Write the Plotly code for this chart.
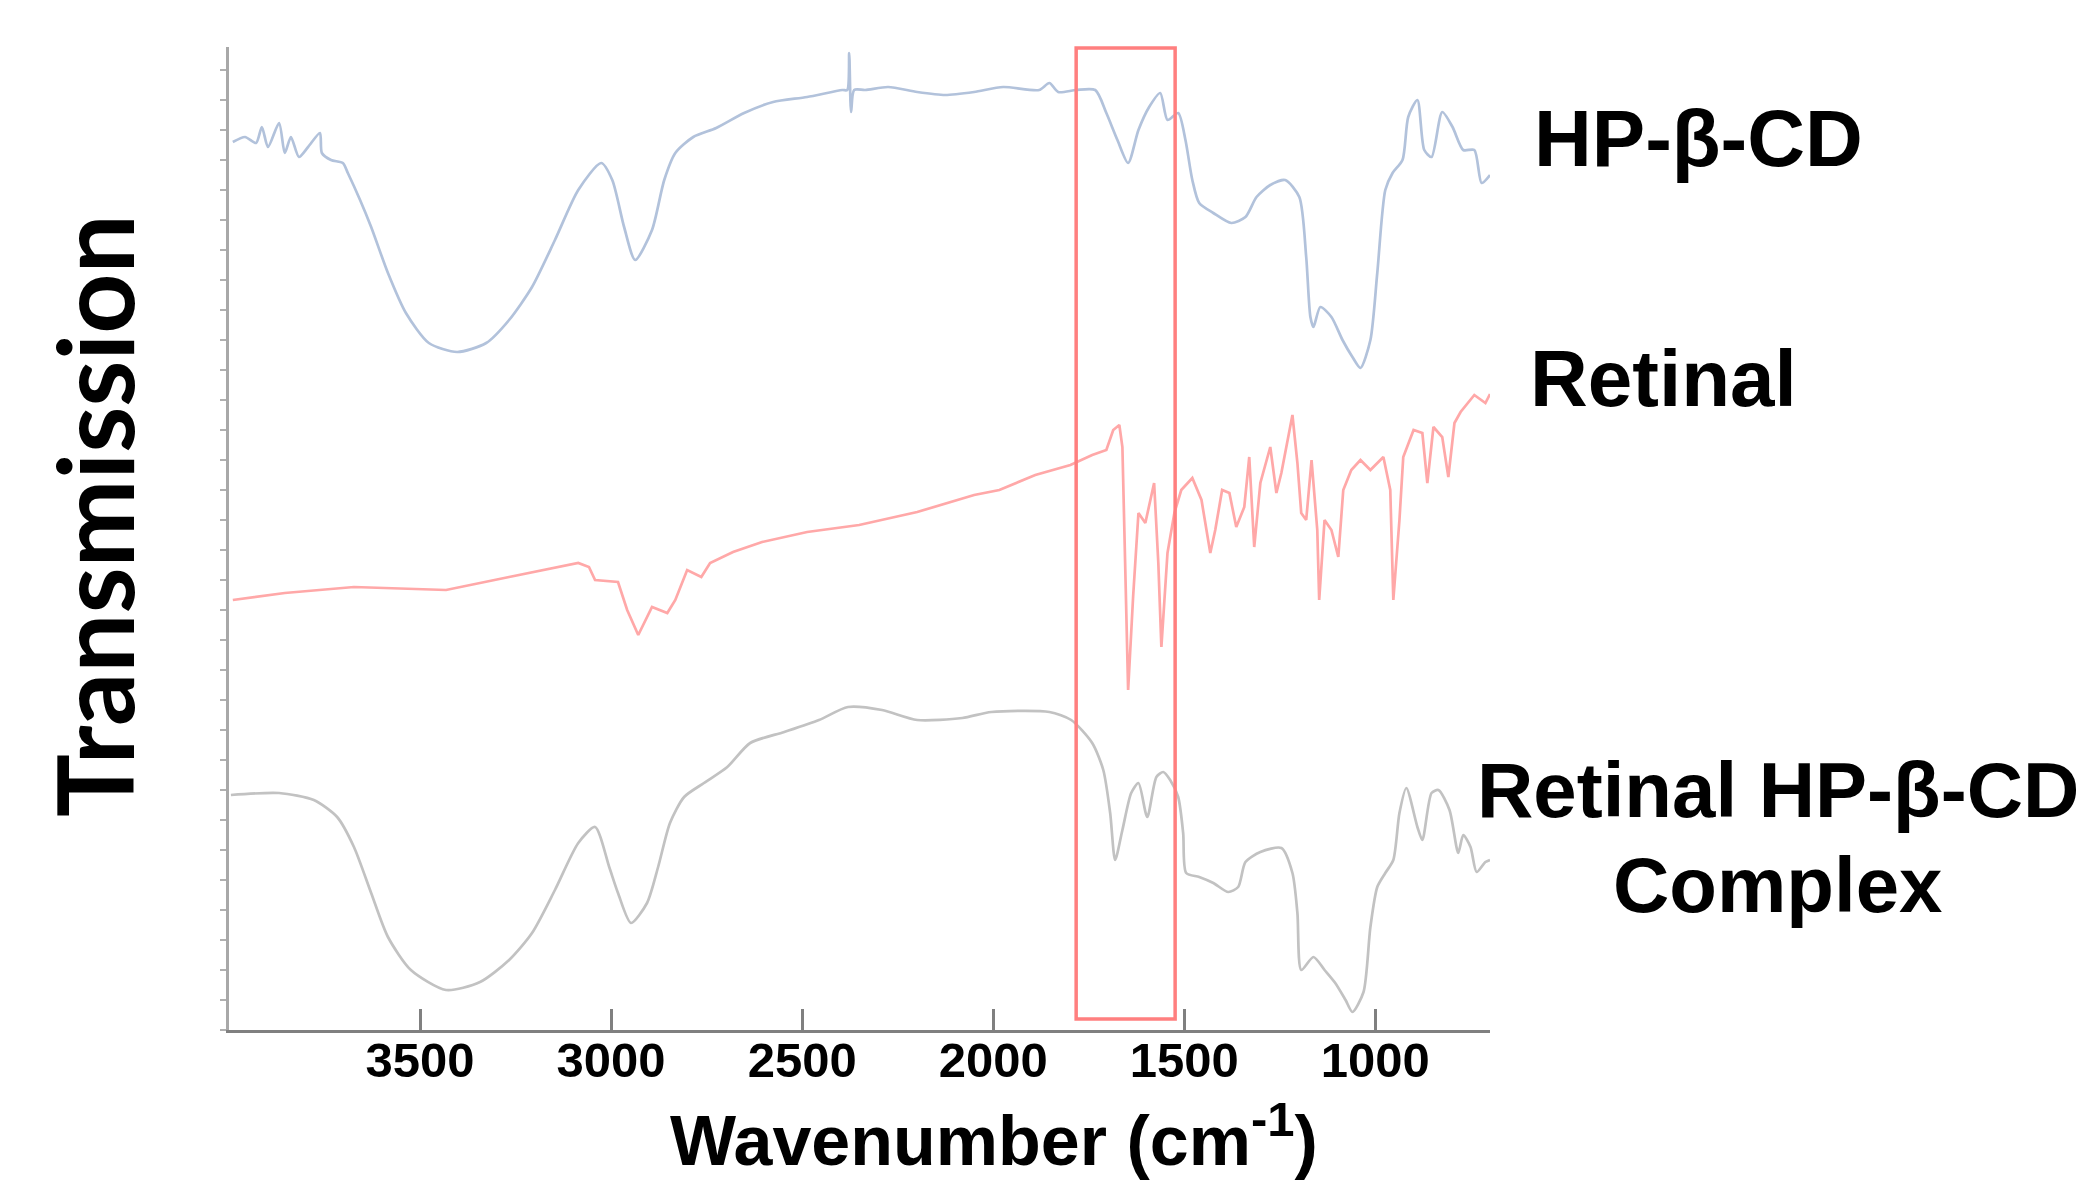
import plotly.graph_objects as go

# ---------------- data (wavenumber in cm-1, transmission in offset a.u.) ----------------
hp_wn = [3990, 3958, 3929, 3914, 3898, 3869, 3854, 3838, 3817, 3793, 3762, 3757, 3733, 3702, 3689,
         3657, 3628, 3584, 3537, 3477, 3403, 3327, 3267, 3207, 3147, 3086, 3026, 2997, 2966, 2937,
         2893, 2861, 2832, 2785, 2725, 2652, 2576, 2487, 2395, 2382, 2377, 2372, 2364, 2335, 2275,
         2199, 2126, 2050, 1974, 1880, 1853, 1830, 1783, 1733, 1704, 1675, 1647, 1620, 1592, 1563,
         1544, 1516, 1497, 1479, 1461, 1424, 1377, 1340, 1311, 1275, 1236, 1199, 1181, 1170, 1162,
         1144, 1115, 1086, 1060, 1039, 1013, 995, 974, 955, 929, 914, 890, 872, 853, 825,
         798, 770, 741, 722, 700]
hp_tr = [88.8, 89.3, 88.7, 90.3, 88.3, 90.7, 87.7, 89.3, 87.3, 88.3, 89.7, 87.7, 87.0, 86.7, 85.7,
         83.0, 80.3, 75.7, 71.7, 68.7, 67.8, 68.7, 71.0, 74.3, 79.0, 84.0, 86.7, 85.0, 80.3, 77.0,
         80.0, 85.0, 87.7, 89.3, 90.2, 91.7, 92.8, 93.3, 94.0, 94.0, 97.7, 91.8, 94.0, 94.0, 94.3,
         93.8, 93.5, 93.8, 94.3, 94.0, 94.7, 93.8, 94.0, 94.0, 91.7, 89.0, 86.7, 90.0, 92.3, 93.7,
         91.0, 91.7, 89.0, 85.0, 82.7, 81.7, 80.7, 81.3, 83.3, 84.5, 85.0, 83.3, 77.3, 71.3, 70.3,
         72.3, 71.3, 69.0, 67.3, 66.2, 69.0, 75.7, 84.0, 85.7, 87.0, 91.3, 93.0, 88.0, 87.3, 91.8,
         90.3, 88.0, 88.0, 84.7, 85.5]

ret_wn = [3990, 3854, 3673, 3432, 3267, 3086, 3058, 3042, 2982, 2958, 2929, 2893, 2853, 2832, 2801,
          2764, 2741, 2681, 2605, 2487, 2351, 2199, 2050, 1984, 1890, 1798, 1741, 1704, 1686, 1670,
          1662, 1652, 1647, 1634, 1620, 1602, 1579, 1568, 1560, 1544, 1526, 1508, 1479, 1455, 1432,
          1419, 1401, 1382, 1364, 1343, 1330, 1317, 1301, 1275, 1259, 1246, 1233, 1217, 1204, 1194,
          1181, 1167, 1152, 1147, 1133, 1115, 1097, 1084, 1063, 1039, 1013, 979, 961, 953, 937,
          927, 900, 877, 864, 848, 825, 809, 793, 777, 741, 712, 700]
ret_tr = [43.0, 43.7, 44.3, 44.0, 45.3, 46.7, 46.3, 45.0, 44.8, 42.0, 39.5, 42.3, 41.7, 43.0, 46.0,
          45.3, 46.7, 47.8, 48.8, 49.8, 50.5, 51.8, 53.5, 54.0, 55.5, 56.5, 57.5, 58.0, 60.0, 60.5,
          58.3, 43.7, 34.0, 43.3, 51.7, 50.7, 54.7, 46.7, 38.3, 47.7, 51.7, 54.0, 55.2, 53.0, 47.7,
          50.0, 54.0, 53.7, 50.3, 52.3, 57.3, 48.3, 54.7, 58.3, 53.7, 55.7, 58.3, 61.5, 56.7, 51.7,
          51.0, 57.0, 50.0, 43.0, 51.0, 50.0, 47.3, 54.0, 56.0, 57.0, 56.0, 57.3, 54.0, 43.0, 51.0,
          57.3, 60.0, 59.7, 54.7, 60.3, 59.3, 55.3, 60.7, 61.8, 63.5, 62.7, 63.6]

cx_wn = [3995, 3869, 3778, 3717, 3673, 3628, 3584, 3524, 3432, 3343, 3267, 3207, 3147, 3086, 3042,
         3005, 2982, 2948, 2906, 2877, 2846, 2809, 2757, 2696, 2636, 2547, 2456, 2380, 2291, 2199,
         2081, 2005, 1853, 1796, 1741, 1712, 1694, 1681, 1662, 1639, 1620, 1597, 1573, 1555, 1537,
         1516, 1503, 1495, 1461, 1424, 1385, 1359, 1340, 1301, 1246, 1217, 1204, 1194, 1162, 1133,
         1105, 1078, 1060, 1031, 1013, 995, 974, 953, 937, 919, 890, 877, 853, 835, 806,
         783, 770, 751, 735, 712, 700]
cx_tr = [23.5, 23.7, 23.0, 21.3, 18.3, 13.7, 9.3, 6.0, 4.0, 4.8, 7.0, 9.7, 14.0, 18.7, 20.3,
         16.3, 13.7, 10.7, 12.7, 16.3, 20.7, 23.3, 24.7, 26.3, 28.7, 29.8, 31.0, 32.3, 32.0, 31.0,
         31.2, 31.8, 31.8, 31.0, 28.7, 26.0, 21.7, 17.0, 20.0, 23.7, 24.7, 21.3, 25.3, 25.8, 25.0,
         23.3, 19.7, 15.7, 15.3, 14.7, 13.8, 14.3, 16.8, 17.8, 18.2, 15.7, 11.7, 6.0, 7.3, 6.0,
         4.7, 3.0, 1.8, 3.8, 10.3, 14.3, 15.7, 17.0, 21.7, 24.2, 20.3, 19.0, 23.7, 24.0, 22.0,
         17.7, 19.5, 18.3, 15.8, 16.8, 17.0]

x_ticks = [3500, 3000, 2500, 2000, 1500, 1000]
x_range = [4000, 700]
y_range = [0, 98.3]
highlight = [1783, 1524]   # highlighted band (cm-1)

series_colors = ["#b2c2db", "#ffa8a8", "#c2c2c2"]
series_shapes = ["spline", "linear", "spline"]

# ---------------- figure ----------------
fig = go.Figure()
for wn, tr, col, shp in zip([hp_wn, ret_wn, cx_wn], [hp_tr, ret_tr, cx_tr],
                            series_colors, series_shapes):
    fig.add_trace(go.Scatter(x=wn, y=tr, mode="lines",
                             line=dict(color=col, width=2.7, shape=shp, smoothing=0.7),
                             showlegend=False))

AX = "#808080"
fig.update_layout(
    width=2076, height=1172,
    margin=dict(l=221, r=594, t=39, b=150),
    paper_bgcolor="white", plot_bgcolor="white",
    font=dict(family="Liberation Sans, Arial, sans-serif", color="black"),
)
fig.update_xaxes(
    range=x_range, tickvals=x_ticks, ticktext=["<b>%d</b>" % t for t in x_ticks],
    showgrid=False, zeroline=False,
    showline=True, linecolor=AX, linewidth=3,
    ticks="inside", ticklen=21, tickwidth=3, tickcolor=AX,
    tickfont=dict(size=49, family="Liberation Sans, Arial", color="black"),
    ticklabelstandoff=-15,
)
fig.update_yaxes(
    range=y_range, showgrid=False, zeroline=False, showticklabels=False,
    showline=True, linecolor="#a8a8a8", linewidth=3,
    ticks="outside", ticklen=6, tickwidth=2, tickcolor="#b0b0b0", dtick=3,
)

# highlight rectangle
fig.add_shape(type="rect", xref="x", yref="paper",
              x0=highlight[0], x1=highlight[1], y0=0.0112, y1=0.999,
              line=dict(color="#ff7f7f", width=3.5), fillcolor="rgba(0,0,0,0)")

bold = "Liberation Sans, Arial, sans-serif"
# series labels
fig.add_annotation(text="<b>HP-β-CD</b>", xref="paper", yref="paper", x=1.0337, y=0.9074,
                   xanchor="left", yanchor="middle", showarrow=False,
                   font=dict(size=80, family=bold, color="black"))
fig.add_annotation(text="<b>Retinal</b>", xref="paper", yref="paper", x=1.0305, y=0.6623,
                   xanchor="left", yanchor="middle", showarrow=False,
                   font=dict(size=80, family=bold, color="black"))
fig.add_annotation(text="<b>Retinal HP-β-CD</b>", xref="paper", yref="paper",
                   x=1.228, y=0.2441, xanchor="center", yanchor="middle",
                   showarrow=False, font=dict(size=78, family=bold, color="black"))
fig.add_annotation(text="<b>Complex</b>", xref="paper", yref="paper",
                   x=1.228, y=0.1475, xanchor="center", yanchor="middle",
                   showarrow=False, font=dict(size=78, family=bold, color="black"))

# axis titles
fig.add_annotation(text="<b>Wavenumber (cm<sup>-1</sup>)</b>", xref="paper", yref="paper",
                   x=0.6069, y=-0.108, xanchor="center", yanchor="middle", showarrow=False,
                   font=dict(size=70, family=bold, color="black"))
fig.add_annotation(text="<b>Transmission</b>", xref="paper", yref="paper",
                   x=-0.1079, y=0.5239, xanchor="center", yanchor="middle", showarrow=False,
                   textangle=-90,
                   font=dict(size=105, family="Lato, Liberation Sans, Arial", color="black"))

fig.write_html("out.html")
